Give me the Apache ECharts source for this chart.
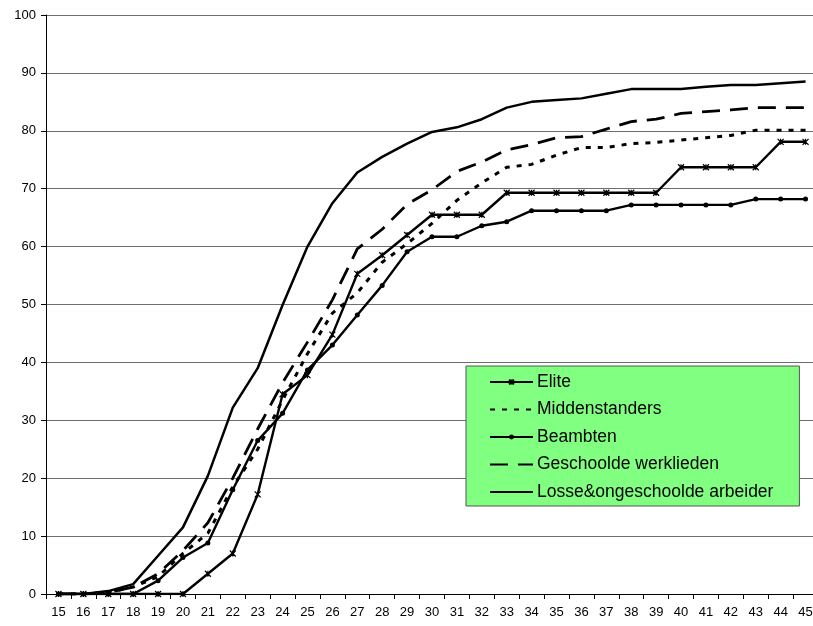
<!DOCTYPE html>
<html>
<head>
<meta charset="utf-8">
<script src="https://cdn.jsdelivr.net/npm/echarts@6/dist/echarts.min.js"></script>
<style>html,body{margin:0;padding:0;background:#fff;overflow:hidden}#c{width:818px;height:626px}</style>
</head>
<body>
<div id="c"></div>
<script>
const ages = ['15','16','17','18','19','20','21','22','23','24','25','26','27','28','29','30','31','32','33','34','35','36','37','38','39','40','41','42','43','44','45'];
const elite = [0,0,0,0,0,0,3.5,7,17.2,34.5,37.8,44.8,55.3,58.5,62,65.5,65.5,65.5,69.3,69.3,69.3,69.3,69.3,69.3,69.3,73.7,73.7,73.7,73.7,78.1,78.1];
const middenstanders = [0,0,0.3,1.2,3,7,10.5,18.5,25,33.5,41.5,48.5,52,57.3,60.5,64,68,71,73.7,74.2,75.8,77.1,77.1,77.8,78,78.4,78.8,79.2,80.1,80.1,80.1];
const beambten = [0,0,0,0,2.3,6.3,8.8,18,26.5,31.2,38.7,43,48.2,53.3,59.1,61.7,61.7,63.6,64.3,66.2,66.2,66.2,66.2,67.2,67.2,67.2,67.2,67.2,68.2,68.2,68.2];
const geschoolde = [0,0,0.3,1.2,3.5,7.5,12.3,20,28.5,36.5,43.5,50.8,59.6,63,67.3,69.8,73,74.6,76.7,77.6,78.8,79,80.3,81.6,82,83,83.3,83.6,84,84,84];
const losse = [0,0,0.5,1.7,6.6,11.5,20.4,32.2,39,49.9,60,67.5,72.8,75.5,77.8,79.8,80.6,82,84,85,85.3,85.6,86.4,87.2,87.2,87.2,87.6,87.9,87.9,88.2,88.5];
const yTicks = [0,10,20,30,40,50,60,70,80,90,100];

const names = ['Elite','Middenstanders','Beambten','Geschoolde werklieden','Losse&ongeschoolde arbeider'];
const xMark = 'path://M0,0L10,10M10,0L0,10M5,0L5,10Z';

function mk(name, data, opts) {
  return Object.assign({
    name: name, type: 'line', data: data,
    showSymbol: false, symbol: 'circle',
    lineStyle: { color: '#000', width: 2.5 },
    itemStyle: { color: '#000' },
    animation: false
  }, opts);
}

const chart = echarts.init(document.getElementById('c'), null, { renderer: 'canvas' });
chart.setOption({
  backgroundColor: '#fff',
  animation: false,
  grid: { left: 46, top: 15, bottom: 32, right: 0, containLabel: false },
  xAxis: {
    type: 'category', data: ages, boundaryGap: true,
    axisLine: { lineStyle: { color: '#000', width: 1 } },
    axisTick: { show: true, alignWithLabel: false, length: 5, lineStyle: { color: '#000' } },
    axisLabel: { color: '#000', fontFamily: 'Liberation Sans, Arial', fontSize: 13, margin: 12, interval: 0 },
    splitLine: { show: false }
  },
  yAxis: {
    type: 'value', min: 0, max: 100, interval: 10,
    axisLine: { show: true, lineStyle: { color: '#000', width: 1 } },
    axisTick: { show: true, length: 5, lineStyle: { color: '#000' } },
    axisLabel: { color: '#000', fontFamily: 'Liberation Sans, Arial', fontSize: 13, margin: 10,
      formatter: function (v) { return yTicks.indexOf(v) >= 0 ? String(v) : ''; } },
    splitLine: { show: true, lineStyle: { color: '#6e6e6e', width: 1 } }
  },
  legend: {
    orient: 'vertical', left: 466, top: 366,
    backgroundColor: '#80FF80', borderColor: '#555', borderWidth: 1,
    padding: [7, 26, 5, 23], itemGap: 9.5, itemWidth: 43, itemHeight: 6,
    textStyle: { color: '#000', fontFamily: 'Liberation Sans, Arial', fontSize: 17.5, lineHeight: 16, padding: [0, 0, 0, -1] },
    data: [
      { name: names[0] },
      { name: names[1], itemStyle: { opacity: 0 } },
      { name: names[2] },
      { name: names[3], itemStyle: { opacity: 0 } },
      { name: names[4], itemStyle: { opacity: 0 } }
    ]
  },
  series: [
    mk(names[0], elite, { showSymbol: true, symbol: xMark, symbolSize: 6,
      itemStyle: { color: '#000', borderColor: '#000', borderWidth: 1.2 }, lineStyle: { color: '#000', width: 2.4 } }),
    mk(names[1], middenstanders, { lineStyle: { color: '#000', width: 3, type: [5, 7] } }),
    mk(names[2], beambten, { showSymbol: true, symbol: 'circle', symbolSize: 5,
      itemStyle: { color: '#000' }, lineStyle: { color: '#000', width: 2.4 } }),
    mk(names[3], geschoolde, { lineStyle: { color: '#000', width: 2.8, type: [18, 10] } }),
    mk(names[4], losse, { lineStyle: { color: '#000', width: 2.5 } })
  ]
});
</script>
</body>
</html>
